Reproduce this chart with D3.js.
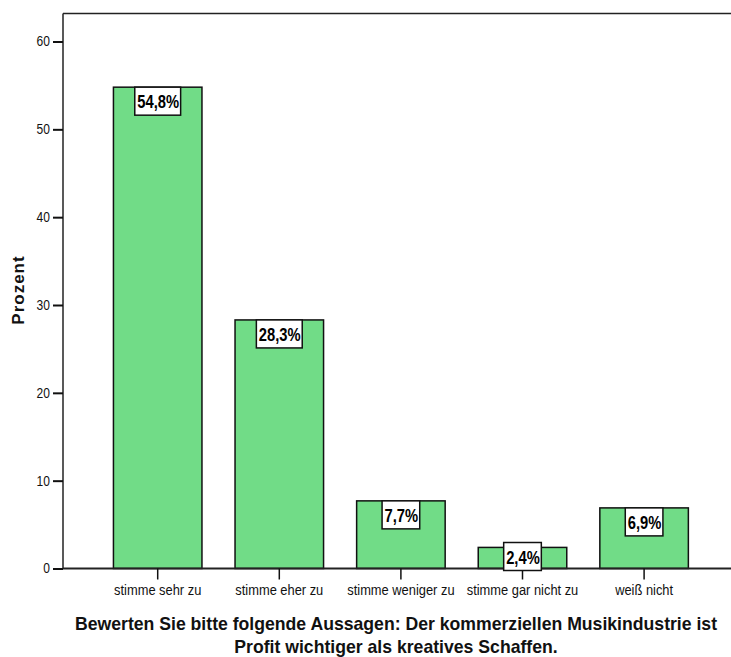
<!DOCTYPE html>
<html><head><meta charset="utf-8">
<script src="https://cdn.jsdelivr.net/npm/d3@7"></script>
<style>
html,body{margin:0;padding:0;background:#fff;}
svg{display:block;}
</style></head>
<body>
<script>
const categories = ["stimme sehr zu","stimme eher zu","stimme weniger zu","stimme gar nicht zu","weiß nicht"];
const values = [54.8, 28.3, 7.7, 2.4, 6.9];
const valueLabels = ["54,8%","28,3%","7,7%","2,4%","6,9%"];
const yTicks = [0,10,20,30,40,50,60];
const yTitle = "Prozent";
const xTitleLines = ["Bewerten Sie bitte folgende Aussagen: Der kommerziellen Musikindustrie ist","Profit wichtiger als kreatives Schaffen."];

const W = 731, H = 657;
const font = "'Liberation Sans',Arial,sans-serif";
const svg = d3.select("body").append("svg").attr("width",W).attr("height",H);

const mLeft = 63, mRight = 731, mTop = 13.5, mBottom = 568.5;
const y = d3.scaleLinear().domain([0,60]).range([mBottom, 41.5]);
const x = d3.scaleBand().domain(categories).range([96.9, 704.9]).paddingInner(0.272).paddingOuter(0.136);

// frame top
svg.append("line").attr("x1",mLeft).attr("x2",mRight).attr("y1",mTop).attr("y2",mTop).attr("stroke","#222").attr("stroke-width",1.5);

// bars
svg.selectAll("rect.bar").data(values).enter().append("rect")
  .attr("class","bar")
  .attr("x",(d,i)=>x(categories[i]))
  .attr("width",x.bandwidth())
  .attr("y",d=>y(d))
  .attr("height",d=>y(0)-y(d))
  .attr("fill","#71dc87").attr("stroke","#111").attr("stroke-width",1.5);

// y axis
const yAxis = d3.axisLeft(y).tickValues(yTicks).tickSize(10).tickPadding(3);
const gy = svg.append("g").attr("transform",`translate(${mLeft},0)`).call(yAxis);
gy.select(".domain").attr("d",`M0,${mTop}V${mBottom}`).attr("stroke","#222").attr("stroke-width",1.5);
gy.selectAll(".tick line").attr("stroke","#111").attr("stroke-width",2);
gy.selectAll(".tick text").attr("font-family",font).attr("font-size",14).attr("fill","#111")
  .attr("x",0).attr("transform","translate(-13,0) scale(0.86,1)");

// x axis
const xAxis = d3.axisBottom(x).tickSize(11).tickPadding(6);
const gx = svg.append("g").attr("transform",`translate(0,${mBottom})`).call(xAxis);
gx.select(".domain").attr("d",`M${mLeft},0H${W}`).attr("stroke","#222").attr("stroke-width",2);
gx.selectAll(".tick line").attr("stroke","#111").attr("stroke-width",1.5).attr("y1",0);
gx.selectAll(".tick text").attr("font-family",font).attr("font-size",14).attr("fill","#111")
  .attr("transform","scale(0.92,1)");

// value labels
const sx = 0.82;
const lab = svg.selectAll("g.vl").data(values).enter().append("g").attr("class","vl");
lab.each(function(d,i){
  const g = d3.select(this);
  const t = g.append("text").text(valueLabels[i])
    .attr("font-family",font).attr("font-weight","bold").attr("font-size",18).attr("fill","#000");
  const tw = t.node().getComputedTextLength() * sx;
  const bw = tw + 4, bh = 28;
  const cx = x(categories[i]) + x.bandwidth()/2;
  let by = y(d);
  if (by + bh > mBottom + 2) by = mBottom + 2 - bh;
  g.insert("rect","text").attr("x",cx - bw/2).attr("y",by).attr("width",bw).attr("height",bh)
    .attr("fill","#fff").attr("stroke","#111").attr("stroke-width",1.5);
  t.attr("transform",`translate(${cx - bw/2 + 2.5},${by + 21}) scale(${sx},1)`);
});

// y title
svg.append("text").text(yTitle)
  .attr("transform","translate(24,290) rotate(-90)")
  .attr("text-anchor","middle").attr("font-family",font)
  .attr("font-weight","bold").attr("font-size",17).attr("letter-spacing",1).attr("fill","#111");

// x title
svg.append("g").attr("transform","translate(396,0) scale(0.98,1)")
  .append("text").attr("text-anchor","middle")
  .attr("font-family",font).attr("font-weight","bold").attr("font-size",18).attr("fill","#111")
  .selectAll("tspan").data(xTitleLines).enter().append("tspan")
  .attr("x",0).attr("y",(d,i)=>630 + i*23).text(d=>d);
</script>
</body></html>
